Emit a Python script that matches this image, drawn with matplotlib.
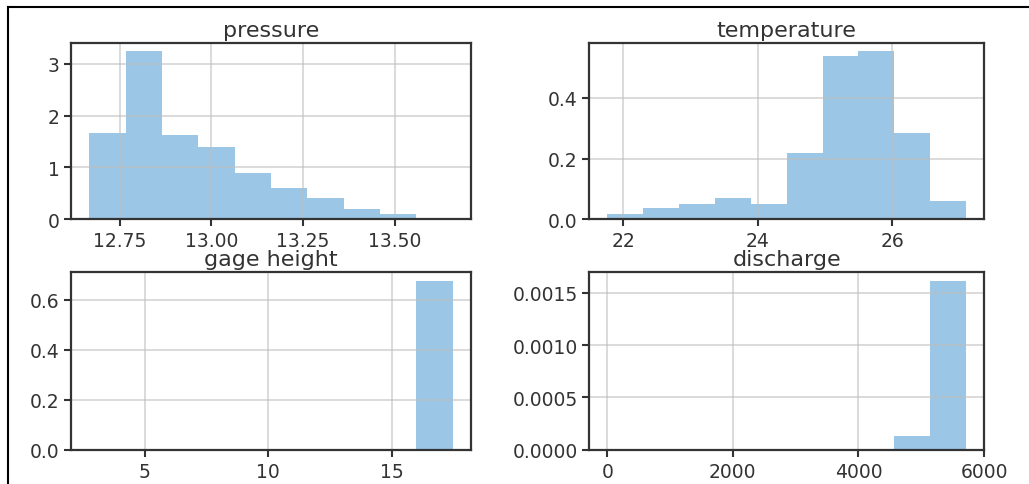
import numpy as np
import matplotlib
matplotlib.use("Agg")
import matplotlib.pyplot as plt
from matplotlib.lines import Line2D
from matplotlib.ticker import FormatStrFormatter


#######################################################
### Data (density histograms, 10 bins each)

pressure_edges = np.linspace(12.668, 13.658, 11)
pressure_density = [1.673, 3.24, 1.628, 1.404, 0.891, 0.596, 0.404, 0.192, 0.103, 0.019]

temperature_edges = np.linspace(21.761, 27.10, 11)
temperature_density = [0.0175, 0.036, 0.050, 0.069, 0.050, 0.2175, 0.539, 0.553, 0.285, 0.061]

gage_edges = np.linspace(2.75, 17.48, 11)
gage_density = [0.004, 0, 0, 0, 0, 0, 0, 0, 0, 0.676]

discharge_edges = np.linspace(0, 5712, 11)
discharge_density = [0.000008, 0, 0, 0, 0, 0, 0, 0, 0.000128, 0.001615]

titles = ["pressure", "temperature", "gage height", "discharge"]

xticks = [
    [12.75, 13.00, 13.25, 13.50],
    [22, 24, 26],
    [5, 10, 15],
    [0, 2000, 4000, 6000],
]
yticks = [
    [0, 1, 2, 3],
    [0.0, 0.2, 0.4],
    [0.0, 0.2, 0.4, 0.6],
    [0.0, 0.0005, 0.0010, 0.0015],
]
xfmt = ["%.2f", "%d", "%d", "%d"]
yfmt = ["%d", "%.1f", "%.1f", "%.4f"]


#######################################################
### Figure

plt.rcParams["font.family"] = "DejaVu Sans"

fig = plt.figure(figsize=(10.29, 4.85), dpi=100)

positions = [
    [0.0693, 0.5458, 0.3884, 0.3635],
    [0.5727, 0.5458, 0.3836, 0.3635],
    [0.0693, 0.0707, 0.3884, 0.3658],
    [0.5727, 0.0707, 0.3836, 0.3658],
]

data = [
    (pressure_edges, pressure_density),
    (temperature_edges, temperature_density),
    (gage_edges, gage_density),
    (discharge_edges, discharge_density),
]

text_color = "#333333"

for i, (edges, dens) in enumerate(data):

    ax = fig.add_axes(positions[i])

    ax.hist(
        edges[:-1],
        bins=edges,
        weights=dens,
        color="#9bc6e6"
    )

    # light grid, faintly visible over the bars
    ax.grid(True, color="#bdbdbd", linewidth=1.1, alpha=0.7)

    ax.set_xticks(xticks[i])
    ax.set_yticks(yticks[i])
    ax.xaxis.set_major_formatter(FormatStrFormatter(xfmt[i]))
    ax.yaxis.set_major_formatter(FormatStrFormatter(yfmt[i]))

    ax.tick_params(
        labelsize=13.5,
        labelcolor=text_color,
        color=text_color,
        width=1.5,
        length=5
    )

    for sp in ax.spines.values():
        sp.set_color(text_color)
        sp.set_linewidth(1.6)

    ax.set_title(titles[i], fontsize=16, color=text_color, pad=5)

# frame around the picture (top and left edge)
fig.add_artist(Line2D([8 / 1029, 1], [1 - 8 / 485, 1 - 8 / 485],
                      color="black", linewidth=1.5, transform=fig.transFigure))
fig.add_artist(Line2D([8 / 1029, 8 / 1029], [0, 1 - 8 / 485],
                      color="black", linewidth=1.5, transform=fig.transFigure))

fig.savefig("out.png", dpi=100)
